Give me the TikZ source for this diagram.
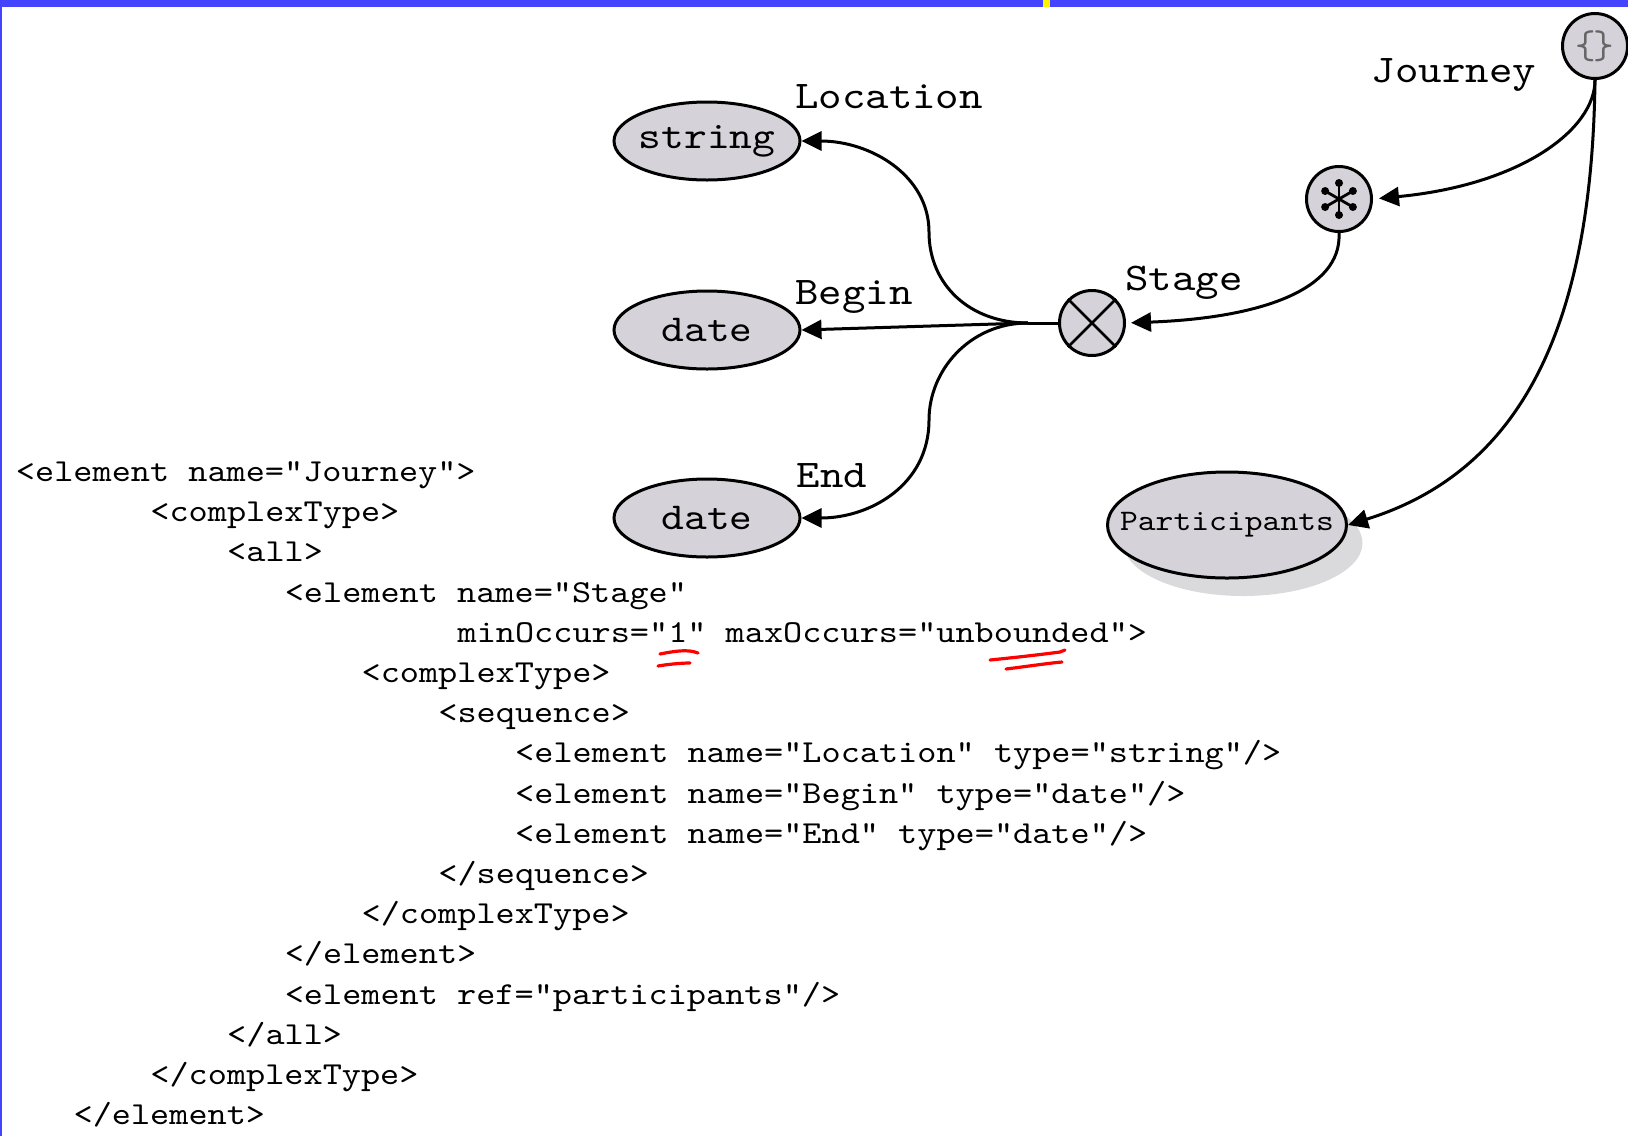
\documentclass[tikz,border=0pt]{standalone}
\usepackage{fontspec}
\usetikzlibrary{shapes.geometric,arrows.meta,shadows}
\newfontfamily\codefont[FakeStretch=1.14]{lmmono10-regular.otf}
\definecolor{nodegray}{RGB}{213,211,217}
\definecolor{shadegray}{RGB}{218,218,221}
\definecolor{slideblue}{RGB}{68,68,255}
\definecolor{markred}{RGB}{255,0,0}
\tikzset{
  typenode/.style={ellipse, draw, line width=1.5pt, fill=nodegray, minimum width=93pt, minimum height=39pt, inner xsep=-4pt, inner ysep=0pt, font=\codefont\fontsize{19}{19}\selectfont},
  opnode/.style={circle, draw, line width=1.5pt, fill=nodegray, minimum size=32.5pt, inner sep=0pt},
  elemlabel/.style={anchor=base, inner sep=0pt, font=\codefont\fontsize{19.6}{20}\selectfont},
  link/.style={line width=1.5pt, -{Triangle[length=10pt,width=9.5pt]}},
  codetext/.style={anchor=base west, inner sep=0pt, font=\codefont\fontsize{16}{16}\selectfont},
  redmark/.style={markred, line width=1.6pt, line cap=round},
}
% one line of the schema listing: index, indent (chars), text
\newcommand{\xmlline}[3]{\node[codetext] (code#1) at ({15.6+#2*19.2},{481.5+#1*40.2}) {#3};}

\begin{document}
\begin{tikzpicture}[x=0.5pt,y=-0.5pt]
\useasboundingbox (0,0) rectangle (1628,1136);
% slide frame
\fill[slideblue] (0,0) rectangle (1628,7);
\fill[slideblue] (0,0) rectangle (2,1136);
\fill[yellow] (1043,0) rectangle (1050,7);

% tree
\node[opnode] (journey) at (1595,46) {};
\node[font=\ttfamily\fontsize{20}{20}\selectfont, text=black!60, inner sep=0pt] (braces) at (journey) {\{\kern-1.5pt\}};
\node[opnode] (star) at (1339,199) {};
\foreach \a in {90,30,-30,-90,-150,150} {
  \draw[line width=1.4pt] (star.center) -- ++(\a:16);
  \fill (star.center) ++(\a:16) circle (2pt);
}
\node[opnode] (stage) at (1092,323) {};
\draw[line width=1.3pt] (stage.45) -- (stage.225) (stage.135) -- (stage.315);
\coordinate (split) at (1028,323);

\node[typenode] (loctype) at (707,141) {string};
\node[typenode] (begintype) at (707,330) {date};
\node[typenode] (endtype) at (707,518) {date};
\node[typenode, minimum width=119.5pt, minimum height=53pt, inner xsep=-13pt, font=\codefont\fontsize{14.9}{15}\selectfont,
  drop shadow={shadow xshift=8pt, shadow yshift=-9pt, fill=shadegray, opacity=1}] (parttype) at (1227,525) {Participants};

\node[elemlabel] (journeylbl) at (1454,82) {Journey};
\node[elemlabel] (loclbl) at (889,108) {Location};
\node[elemlabel] (beginlbl) at (854,304) {Begin};
\node[elemlabel] (endlbl) at (832,487) {End};
\node[elemlabel] (stagelbl) at (1184,290) {Stage};

\draw[link, shorten >=3pt] (journey.south) .. controls (1595,130) and (1520,185) .. (star.east);
\draw[link] (journey.south) .. controls (1592,320) and (1525,470) .. (parttype.east);
\draw[link, shorten >=2.5pt] (star.south) .. controls (1342,290) and (1260,318) .. (stage.east);
\draw[line width=1.5pt] (stage.west) -- (split);
\draw[link] (split) .. controls (970,323) and (929,285) .. (929,232)
  .. controls (929,175) and (870,141) .. (loctype.east);
\draw[link] (split) -- (begintype.east);
\draw[link] (split) .. controls (970,323) and (929,370) .. (929,420)
  .. controls (929,485) and (870,518) .. (endtype.east);

% schema
\xmlline{0}{0}{<element name="Journey">}
\xmlline{1}{7}{<complexType>}
\xmlline{2}{11}{<all>}
\xmlline{3}{14}{<element name="Stage"}
\xmlline{4}{23}{minOccurs="1" maxOccurs="unbounded">}
\xmlline{5}{18}{<complexType>}
\xmlline{6}{22}{<sequence>}
\xmlline{7}{26}{<element name="Location" type="string"/>}
\xmlline{8}{26}{<element name="Begin" type="date"/>}
\xmlline{9}{26}{<element name="End" type="date"/>}
\xmlline{10}{22}{</sequence>}
\xmlline{11}{18}{</complexType>}
\xmlline{12}{14}{</element>}
\xmlline{13}{14}{<element ref="participants"/>}
\xmlline{14}{11}{</all>}
\xmlline{15}{7}{</complexType>}
\xmlline{16}{3}{</element>}

% hand marks
\draw[redmark] (660,654) .. controls (675,651) and (688,649) .. (698,653);
\draw[redmark] (658,666) .. controls (670,664) and (682,663) .. (690,663);
\draw[redmark] (990,660) .. controls (1020,657) and (1045,654) .. (1060,652) -- (1065,650);
\draw[redmark] (1006,669) .. controls (1030,666) and (1050,663) .. (1062,662);
\end{tikzpicture}
\end{document}
